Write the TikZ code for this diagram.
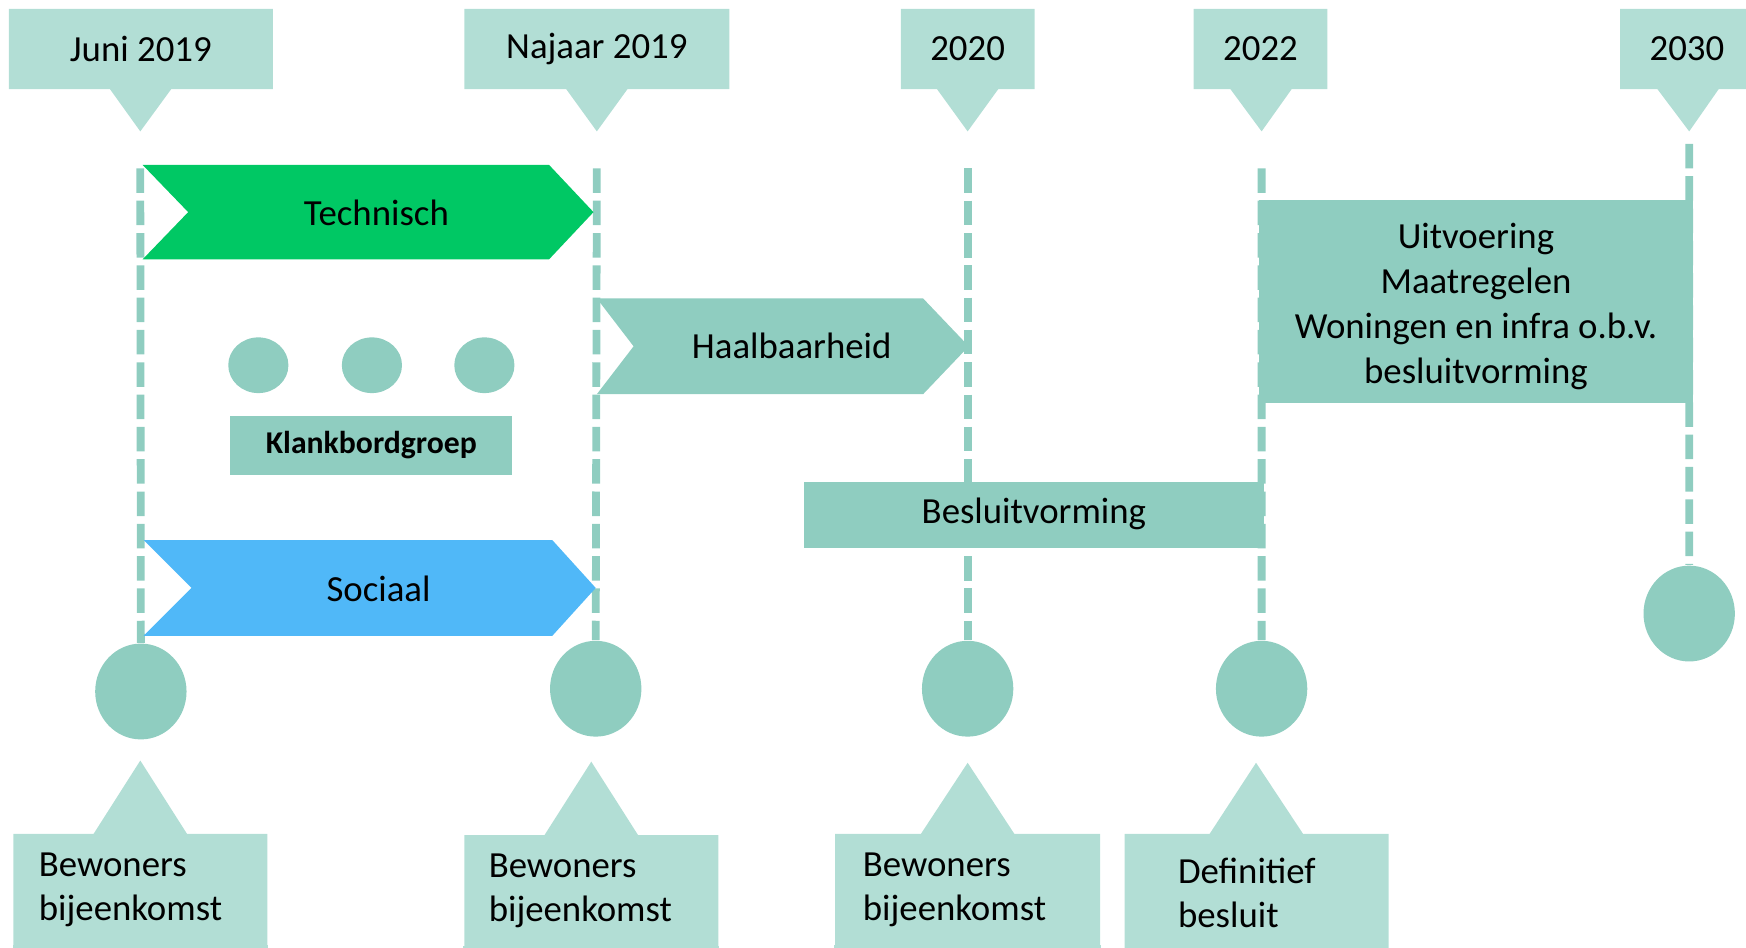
\documentclass[tikz,border=0pt]{standalone}
\usepackage{fontspec}
\setmainfont{Carlito}
\usetikzlibrary{shapes.geometric,shapes.callouts,backgrounds}
\definecolor{lightmint}{RGB}{178,222,213}
\definecolor{darkmint}{RGB}{143,205,192}
\definecolor{techgreen}{RGB}{0,200,100}
\definecolor{socblue}{RGB}{80,184,248}
\begin{document}
\begin{tikzpicture}[x=0.01cm, y=-0.01cm,
    every node/.style={font=\fontsize{9.4}{11.4}\selectfont, inner sep=0pt},
    datebox/.style={rectangle callout, fill=lightmint, minimum width=#1, minimum height=0.72cm, callout pointer width=0.55cm},
    meetbox/.style={rectangle callout, fill=lightmint, align=left, callout pointer width=0.84cm},
    dot/.style={ellipse, fill=darkmint, minimum width=0.82cm, minimum height=0.86cm},
    smalldot/.style={ellipse, fill=darkmint, minimum width=0.54cm, minimum height=0.50cm},
    timeline/.style={darkmint, line width=0.07cm, dash pattern=on 0.22cm off 0.07cm}]
    \useasboundingbox (0, 0) rectangle (1568, 851);
    \clip (0, 0) rectangle (1568, 851);
    % dates on top
    \node[datebox=2.37cm, callout absolute pointer={(126, 118)}] (d1) at (126.5, 44) {Juni 2019};
    \node[datebox=2.38cm, callout absolute pointer={(536, 118)}] (d2) at (536, 44) {Najaar 2019};
    \node[datebox=1.20cm, callout absolute pointer={(869, 118)}] (d3) at (869, 44) {2020};
    \node[datebox=1.20cm, callout absolute pointer={(1133, 118)}] (d4) at (1132, 44) {2022};
    \node[datebox=1.20cm, callout absolute pointer={(1517, 118)}] (d5) at (1515, 44) {2030};
    % milestones
    \node[dot] (c1) at (126.5, 621) {};
    \node[dot] (c2) at (535, 618.5) {};
    \node[dot] (c3) at (869, 618.5) {};
    \node[dot] (c4) at (1133, 618.5) {};
    \node[dot] (c5) at (1517, 551) {};
    \begin{scope}[on background layer]
        \foreach \i in {1,...,4}
            \draw[timeline] ([yshift=-0.32cm]d\i.pointer) -- (c\i.north);
        \draw[timeline] ([yshift=-0.1cm]d5.pointer) -- (c5.north);
    \end{scope}
    % tracks
    \fill[techgreen] (128, 148) -- (493, 148) -- (533, 190.5) -- (493, 233) -- (128, 233) -- (169, 190.5) -- cycle;
    \node (tech) at (338, 191) {Technisch};
    \fill[socblue] (129, 485) -- (496, 485) -- (535, 528) -- (496, 571) -- (129, 571) -- (172, 528) -- cycle;
    \node (soc) at (340, 529) {Sociaal};
    \fill[darkmint] (536, 268) -- (829, 268) -- (870, 311) -- (829, 354) -- (536, 354) -- (569, 311) -- cycle;
    \node (haal) at (711, 311) {Haalbaarheid};
    % klankbordgroep
    \node[smalldot] (k1) at (232, 328) {};
    \node[smalldot] (k2) at (334, 328) {};
    \node[smalldot] (k3) at (435, 328) {};
    \node[fill=darkmint, minimum width=2.53cm, minimum height=0.53cm, text depth=0.35ex, font=\fontsize{8.1}{10}\selectfont\bfseries] (kbg) at (333.5, 400) {Klankbordgroep};
    \node[fill=darkmint, minimum width=4.13cm, minimum height=0.59cm, text depth=0.5ex] (besl) at (928.5, 462.5) {Besluitvorming};
    \node[fill=darkmint, minimum width=3.89cm, minimum height=1.82cm, align=center, font=\fontsize{9.4}{11.5}\selectfont] (uitv) at (1325.5, 271) {\rule{0pt}{0.31cm}Uitvoering\\Maatregelen\\Woningen en infra o.b.v.\\besluitvorming};
    % meetings at the bottom
    \node[meetbox, text width=1.82cm, inner xsep=0.23cm, minimum height=1.00cm, callout absolute pointer={(126, 683)}] (b1) at (126, 799) {Bewoners\\bijeenkomst};
    \node[meetbox, text width=1.84cm, inner xsep=0.22cm, minimum height=1.00cm, callout absolute pointer={(531, 684)}] (b2) at (531, 800) {Bewoners\\bijeenkomst};
    \node[meetbox, text width=1.88cm, inner xsep=0.25cm, minimum height=1.00cm, callout absolute pointer={(869, 685)}] (b3) at (869, 799) {Bewoners\\bijeenkomst};
    \node[meetbox, text width=1.41cm, inner xsep=0.48cm, minimum height=1.06cm, callout absolute pointer={(1128, 685)}] (b4) at (1128.5, 802) {Definitief\\besluit};
    \foreach \b in {b1, b2, b3, b4}
        \fill[lightmint] ([yshift=0.01cm]\b.south west) rectangle ([yshift=-0.2cm]\b.south east);
\end{tikzpicture}
\end{document}
